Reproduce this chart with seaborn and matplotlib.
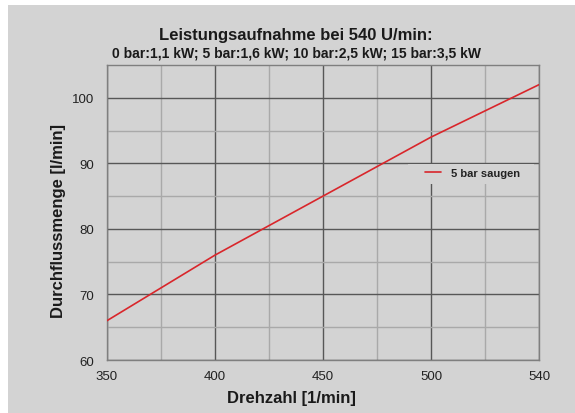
import pandas as pd
import seaborn as sns
import matplotlib.pyplot as plt
from matplotlib.patches import Rectangle
from matplotlib.ticker import FixedLocator

drehzahl = ['350', '400', '450', '500', '540']
durchfluss = [66, 76, 85, 94, 102]
serie = '5 bar saugen'
titel = 'Leistungsaufnahme bei 540 U/min:'
untertitel = '0 bar:1,1 kW; 5 bar:1,6 kW; 10 bar:2,5 kW; 15 bar:3,5 kW'

bg = '#d3d3d3'
sns.set_style('white')
plt.rcParams['font.family'] = ['Liberation Sans', 'DejaVu Sans']

df = pd.DataFrame({'drehzahl': drehzahl, 'durchfluss': durchfluss, 'serie': serie})

W, H = 575, 414
fig = plt.figure(figsize=(W / 100, H / 100), dpi=100)
fig.patch.set_facecolor('white')
fig.patches.append(Rectangle((8 / W, 0), 1, 408 / H, transform=fig.transFigure,
                             facecolor=bg, edgecolor='none', zorder=-10))
ax = fig.add_axes([107 / W, 1 - 361 / H, 432 / W, 295 / H])
ax.set_facecolor(bg)

sns.lineplot(data=df, x='drehzahl', y='durchfluss', hue='serie',
             palette=['#d9262b'], linewidth=1.2, ax=ax, zorder=3)

ax.set_xlim(0, len(drehzahl) - 1)
ax.set_ylim(60, 105)
ax.set_yticks([60, 70, 80, 90, 100])
ax.xaxis.set_minor_locator(FixedLocator([0.5, 1.5, 2.5, 3.5]))
ax.yaxis.set_minor_locator(FixedLocator([65, 75, 85, 95]))
ax.grid(which='major', color='#575757', linewidth=1.0)
ax.grid(which='minor', color='#a9a9a9', linewidth=1.0)
ax.set_axisbelow(True)
for s in ax.spines.values():
    s.set_color('#7f7f7f')
    s.set_linewidth(1.0)
ax.tick_params(axis='x', which='both', length=0, pad=7, labelsize=9.5, labelcolor='#222222')
ax.tick_params(axis='y', which='major', length=4, color='#a0a0a0', pad=5, labelsize=9.5, labelcolor='#222222')
ax.tick_params(axis='y', which='minor', length=0)

ax.set_xlabel('')
ax.set_ylabel('')
fig.text(291 / W, 1 - 399 / H, 'Drehzahl [1/min]', ha='center', va='center',
         fontsize=12, fontweight='bold', color='#1a1a1a')
fig.text(59 / W, 1 - 221 / H, 'Durchflussmenge [l/min]', ha='center', va='center', rotation=90,
         fontsize=12, fontweight='bold', color='#1a1a1a')

# Legende: Hintergrundfeld verdeckt das Gitter
ax.add_patch(Rectangle((301 / 432, 176 / 295), 126 / 432, 20 / 295, transform=ax.transAxes,
                       facecolor=bg, edgecolor='none', zorder=2))
leg = ax.legend(loc='center left', bbox_to_anchor=(318 / 432, 187 / 295), frameon=False,
                fontsize=8, handlelength=1.4, handletextpad=0.9, borderpad=0, borderaxespad=0)
for t in leg.get_texts():
    t.set_fontweight('bold')
    t.set_color('#222222')

fig.text(296 / W, 1 - 36 / H, titel, ha='center', va='center', fontsize=12, fontweight='bold', color='#1a1a1a')
fig.text(296 / W, 1 - 53 / H, untertitel, ha='center', va='center', fontsize=10, fontweight='bold', color='#1a1a1a')

fig.savefig('out.png', dpi=100, facecolor=fig.get_facecolor())
